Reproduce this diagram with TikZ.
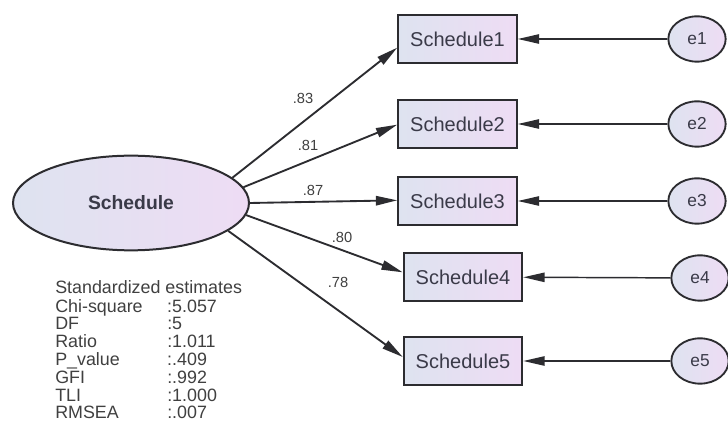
\documentclass[tikz,border=0pt]{standalone}
\usepackage{fontspec}
\setmainfont{Liberation Sans}
\usetikzlibrary{arrows.meta,shapes.geometric}
\definecolor{edgec}{HTML}{2C2C30}
\definecolor{lblue}{HTML}{DEE3F0}
\definecolor{lpurp}{HTML}{EEDCF4}
\definecolor{txtc}{HTML}{3A3A48}
\definecolor{statc}{HTML}{404040}
\begin{document}
\begin{tikzpicture}[x=0.75pt,y=-0.75pt,
  latent/.style={ellipse, draw=edgec, line width=1.5pt, left color=lblue, right color=lpurp, inner sep=0pt,
    minimum width=177pt, minimum height=71pt, font=\fontsize{14.5}{16}\selectfont\bfseries, text=txtc},
  obs/.style={rectangle, draw=edgec, line width=1.4pt, left color=lblue, right color=lpurp, inner sep=0pt,
    minimum width=89pt, minimum height=36pt, font=\fontsize{15}{17}\selectfont, text=txtc},
  err/.style={ellipse, draw=edgec, line width=1.4pt, left color=lblue, right color=lpurp, inner sep=0pt,
    minimum width=43pt, minimum height=34pt, font=\fontsize{13}{15}\selectfont, text=txtc},
  load/.style={draw=edgec, line width=1.4pt, -{Triangle[length=16pt,width=7pt]}},
  errarr/.style={draw=edgec, line width=1.1pt, -{Triangle[length=16pt,width=7pt]}},
  lab/.style={font=\fontsize{11}{12}\selectfont, text=statc, inner sep=0pt}]
\useasboundingbox[fill=white] (0,0) rectangle (728,423);

\node[latent] (S) at (131,203) {Schedule};

\node[obs] (b1) at (457.5,39) {Schedule1};
\node[obs] (b2) at (457.5,124) {Schedule2};
\node[obs] (b3) at (457.5,201) {Schedule3};
\node[obs] (b4) at (463,277) {Schedule4};
\node[obs] (b5) at (463,361) {Schedule5};

\node[err] (e1) at (697,39) {e1};
\node[err] (e2) at (697,124) {e2};
\node[err] (e3) at (697,201) {e3};
\node[err] (e4) at (700,278) {e4};
\node[err] (e5) at (700,361) {e5};

\draw[load] (S.14) -- ([yshift=-6.5pt]b1.west);
\draw[load] (S.8) -- ([yshift=-0.5pt]b2.west);
\draw[load] (S.0) -- ([yshift=0.5pt]b3.west);
\draw[load] (S.-6) -- ([yshift=3.5pt]b4.west);
\draw[load] (S.-16) -- ([yshift=3pt]b5.west);

\foreach \i in {1,...,5} {\draw[errarr] (e\i) -- (b\i);}

\node[lab] (l1) at (303,98) {.83};
\node[lab] (l2) at (308,145) {.81};
\node[lab] (l3) at (313,190) {.87};
\node[lab] (l4) at (342,237) {.80};
\node[lab] (l5) at (338,282) {.78};

\node[anchor=base west, inner sep=0pt, text=statc, font=\fontsize{13.4}{12.9}\selectfont] (stats) at (55,294)
{\begin{tabular}[t]{@{}p{84pt}@{}l@{}}
\multicolumn{2}{@{}l@{}}{Standardized estimates}\\
Chi-square & :5.057\\
DF & :5\\
Ratio & :1.011\\
P\_value & :.409\\
GFI & :.992\\
TLI & :1.000\\
RMSEA & :.007
\end{tabular}};
\end{tikzpicture}
\end{document}
